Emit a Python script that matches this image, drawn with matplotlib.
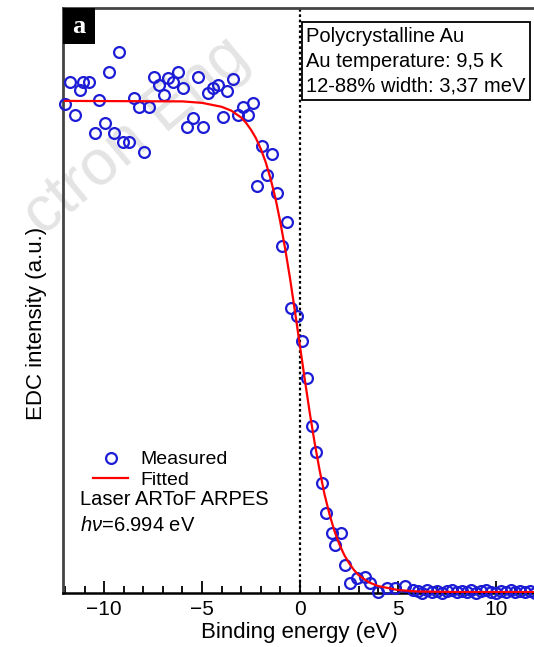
import matplotlib

matplotlib.use('Agg')
import matplotlib.pyplot as plt
from matplotlib.lines import Line2D
from matplotlib.patches import Rectangle

plt.rcParams['font.family'] = ['Liberation Sans', 'DejaVu Sans']
plt.rcParams['mathtext.fontset'] = 'custom'
plt.rcParams['mathtext.it'] = 'Liberation Sans:italic'
plt.rcParams['mathtext.rm'] = 'Liberation Sans'

# measured EDC points (binding energy in eV, normalised intensity)
measured_x = [
    -11.99, -11.73, -11.48, -11.22, -11.07, -10.77, -10.46, -10.26, -9.95, -9.74,
    -9.49, -9.23, -9.03, -8.72, -8.47, -8.21, -7.96, -7.70, -7.45, -7.19,
    -6.94, -6.73, -6.48, -6.22, -5.97, -5.77, -5.46, -5.20, -4.95, -4.69,
    -4.44, -4.18, -3.93, -3.72, -3.42, -3.16, -2.91, -2.65, -2.40, -2.19,
    -1.94, -1.68, -1.43, -1.17, -0.92, -0.66, -0.46, -0.15, 0.10, 0.36,
    0.61, 0.82, 1.12, 1.33, 1.63, 1.79, 2.09, 2.30, 2.55, 2.91,
    3.32, 3.57, 3.98, 4.44, 4.85, 5.36, 5.77, 6.00, 6.25, 6.50,
    6.75, 7.00, 7.25, 7.50, 7.75, 8.00, 8.25, 8.50, 8.75, 9.00,
    9.25, 9.50, 9.75, 10.00, 10.25, 10.50, 10.75, 11.00, 11.25, 11.50,
    11.75, 12.00,
]
measured_y = [
    0.994, 1.039, 0.971, 1.022, 1.039, 1.039, 0.935, 1.002, 0.955, 1.059,
    0.935, 1.100, 0.916, 0.916, 1.006, 0.988, 0.896, 0.988, 1.049, 1.033,
    1.012, 1.047, 1.039, 1.059, 1.026, 0.947, 0.965, 1.049, 0.947, 1.016,
    1.026, 1.033, 0.967, 1.020, 1.045, 0.971, 0.988, 0.971, 0.996, 0.827,
    0.908, 0.849, 0.892, 0.813, 0.705, 0.754, 0.578, 0.562, 0.511, 0.436,
    0.338, 0.285, 0.222, 0.161, 0.120, 0.096, 0.120, 0.055, 0.018, 0.029,
    0.031, 0.018, 0.000, 0.008, 0.008, 0.012, 0.004, 0.002, -0.002, 0.004,
    0.000, 0.003, -0.003, 0.002, 0.005, -0.001, 0.003, 0.000, 0.004, -0.002,
    0.002, 0.005, 0.000, -0.002, 0.003, 0.001, 0.004, -0.001, 0.002, 0.000,
    0.003, -0.002,
]

# fitted Fermi edge
fit_x = [
    -12.0, -6.0, -5.0, -4.0, -3.5, -3.0, -2.75, -2.5, -2.25, -2.0, -1.75, -1.5,
    -1.25, -1.0, -0.75, -0.5, -0.25, 0.0, 0.25, 0.5, 0.75, 1.0, 1.25, 1.5,
    1.75, 2.0, 2.25, 2.5, 2.75, 3.0, 3.5, 4.0, 5.0, 6.0, 8.0, 12.0,
]
fit_y = [
    1.000, 0.999, 0.996, 0.988, 0.980, 0.966, 0.955, 0.941, 0.924, 0.902, 0.875, 0.841,
    0.801, 0.752, 0.697, 0.636, 0.569, 0.500, 0.431, 0.364, 0.303, 0.248, 0.199, 0.159,
    0.125, 0.098, 0.076, 0.059, 0.045, 0.034, 0.020, 0.012, 0.004, 0.001, 0.000, 0.000,
]

XTICKS = [-10, -5, 0, 5, 10]
XMINOR = [v for v in range(-12, 13)]
INFO_LINES = ['Polycrystalline Au', 'Au temperature: 9,5 K', '12-88% width: 3,37 meV']

BLUE = '#1c1cd6'

fig = plt.figure(figsize=(5.34, 6.47), dpi=100)
ax = fig.add_axes([0.118, 0.0835, 0.884, 0.904])

ax.plot(measured_x, measured_y, linestyle='none', marker='o', markersize=7.8,
        markerfacecolor='none', markeredgecolor=BLUE, markeredgewidth=1.6,
        clip_on=False, zorder=3)
ax.plot(fit_x, fit_y, color='red', linewidth=1.6, zorder=4)
ax.axvline(0, color='black', linewidth=1.6, linestyle=(0, (1.2, 1.2)), zorder=2)

ax.set_xlim(-12.1, 12.0)
ax.set_ylim(-0.002, 1.189)
ax.set_xticks(XTICKS)
ax.set_xticklabels([f'\u2212{abs(v)}' if v < 0 else str(v) for v in XTICKS])
ax.set_xticks(XMINOR, minor=True)
ax.set_yticks([])
ax.tick_params(axis='x', which='major', direction='in', length=9, width=1.3,
               labelsize=15, pad=5)
ax.tick_params(axis='x', which='minor', direction='in', length=5, width=1.3)
for side in ['left', 'top', 'right']:
    ax.spines[side].set_linewidth(2)
    ax.spines[side].set_color('#444444')
ax.spines['bottom'].set_linewidth(1.8)

ax.set_xlabel('Binding energy (eV)', fontsize=16, labelpad=2)
ax.set_ylabel('EDC intensity (a.u.)', fontsize=16)
ax.yaxis.set_label_coords(-0.034, 0.46)

# panel label
ax.add_patch(Rectangle((0, 0.9385), 0.068, 0.0615, transform=ax.transAxes,
                       facecolor='black', edgecolor='none', zorder=5, clip_on=False))
ax.text(0.034, 0.969, 'a', transform=ax.transAxes, ha='center', va='center',
        color='white', fontsize=19, fontweight='bold', family='Liberation Serif',
        zorder=6)

# sample info box
ax.text(0.515, 0.968, '\n'.join(INFO_LINES), transform=ax.transAxes,
        ha='left', va='top', fontsize=14.5, linespacing=1.38, zorder=6,
        bbox=dict(boxstyle='square,pad=0.22', facecolor='white',
                  edgecolor='black', linewidth=1.3))

handles = [
    Line2D([], [], linestyle='none', marker='o', markersize=7.8,
           markerfacecolor='none', markeredgecolor=BLUE, markeredgewidth=1.6),
    Line2D([], [], color='red', linewidth=1.6),
]
ax.legend(handles, ['Measured', 'Fitted'], loc='upper left',
          bbox_to_anchor=(0.064, 0.243), frameon=False, fontsize=14,
          handlelength=1.8, handletextpad=0.6, labelspacing=0.15,
          borderpad=0, borderaxespad=0)
ax.text(0.036, 0.159, 'Laser ARToF ARPES', transform=ax.transAxes,
        ha='left', va='center', fontsize=14.5)
ax.text(0.036, 0.116, r'$h\nu$=6.994 eV', transform=ax.transAxes,
        ha='left', va='center', fontsize=14.5)

# faint watermark across the upper left
ax.text(0.255, 0.79, 'ctron Eng', transform=fig.transFigure, ha='center',
        va='center', rotation=40, fontsize=46, color='#e4e4e4', zorder=0)

fig.savefig('out.png', dpi=100)
